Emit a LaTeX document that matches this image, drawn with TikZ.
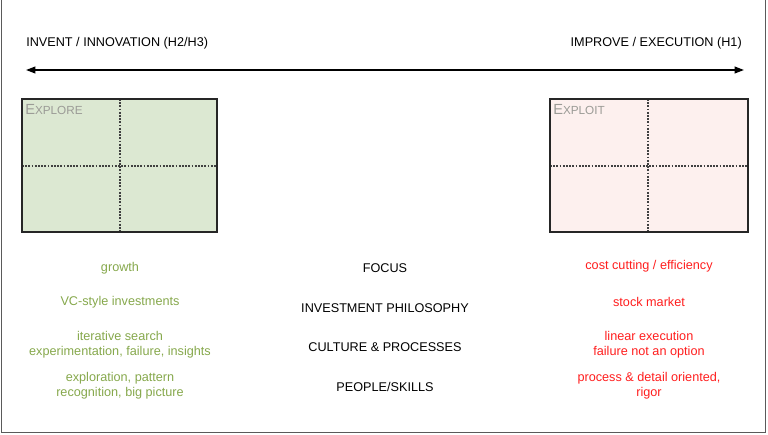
\documentclass[tikz,border=0pt]{standalone}
\usepackage{fontspec}
\setmainfont{Liberation Sans}
\usepackage{xcolor}
\usetikzlibrary{arrows.meta}

\definecolor{explorefill}{RGB}{220,232,210}
\definecolor{exploitfill}{RGB}{253,240,238}
\definecolor{explorecol}{RGB}{134,168,76}
\definecolor{exploitcol}{RGB}{255,30,30}
\definecolor{labelgray}{RGB}{155,155,150}
\definecolor{framegray}{RGB}{90,90,90}

\newcommand{\capsA}[2]{{\fontsize{11}{12}\selectfont #1}{\fontsize{8.8}{10}\selectfont #2}}

\begin{document}
\begin{tikzpicture}[x=0.75pt,y=-0.75pt,
  txt/.style={font=\fontsize{9.5}{11.3}\selectfont,inner sep=0,align=center},
  head/.style={txt,text=black},
  grn/.style={txt,text=explorecol},
  rd/.style={txt,text=exploitcol},
  quad/.style={draw=black!85,line width=1.6pt},
  split/.style={draw=black!75,line width=1.1pt,dash pattern=on 1.4pt off 1pt},
  corner/.style={anchor=north west,inner sep=0,text=labelgray}]
\useasboundingbox (0,0) rectangle (768,435);
% frame
\draw[framegray,line width=1.3pt] (1.5,0) -- (1.5,432.5) -- (765.5,432.5) -- (765.5,0);
% axis
\node[head,anchor=west] (invent) at (26,43) {INVENT / INNOVATION (H2/H3)};
\node[head,anchor=east] (improve) at (742,43) {IMPROVE / EXECUTION (H1)};
\coordinate (axl) at (26,70);
\coordinate (axr) at (744,70);
\draw[line width=1.2pt,{Stealth[length=7pt,width=5pt,inset=0pt]}-{Stealth[length=7pt,width=5pt,inset=0pt]}] (axl) -- (axr);
% explore box
\fill[explorefill] (22,99) rectangle (217,232);
\draw[split] (120,99) -- (120,232);
\draw[split] (22,166) -- (217,166);
\draw[quad] (22,99) rectangle (217,232);
\node[corner] (explore) at (25,104) {\capsA{E}{XPLORE}};
% exploit box
\fill[exploitfill] (550,99) rectangle (748,232);
\draw[split] (648,99) -- (648,232);
\draw[split] (550,166) -- (748,166);
\draw[quad] (550,99) rectangle (748,232);
\node[corner] (exploit) at (553,104) {\capsA{E}{XPLOIT}};
% rows
\node[head] (focus) at (385,268) {FOCUS};
\node[head] (invest) at (385,308) {INVESTMENT PHILOSOPHY};
\node[head] (culture) at (385,347) {CULTURE \& PROCESSES};
\node[head] (people) at (385,387) {PEOPLE/SKILLS};
\node[grn] (growth) at (120,268) {growth};
\node[grn] (vc) at (120,302) {VC-style investments};
\node[grn] (search) at (120,345) {iterative search\\experimentation, failure, insights};
\node[grn] (pattern) at (120,386) {exploration, pattern\\recognition, big picture};
\node[rd] (cost) at (649,266) {cost cutting / efficiency};
\node[rd] (stock) at (649,302) {stock market};
\node[rd] (linear) at (649,345) {linear execution\\failure not an option};
\node[rd] (rigor) at (649,386) {process \& detail oriented,\\rigor};
\end{tikzpicture}
\end{document}
